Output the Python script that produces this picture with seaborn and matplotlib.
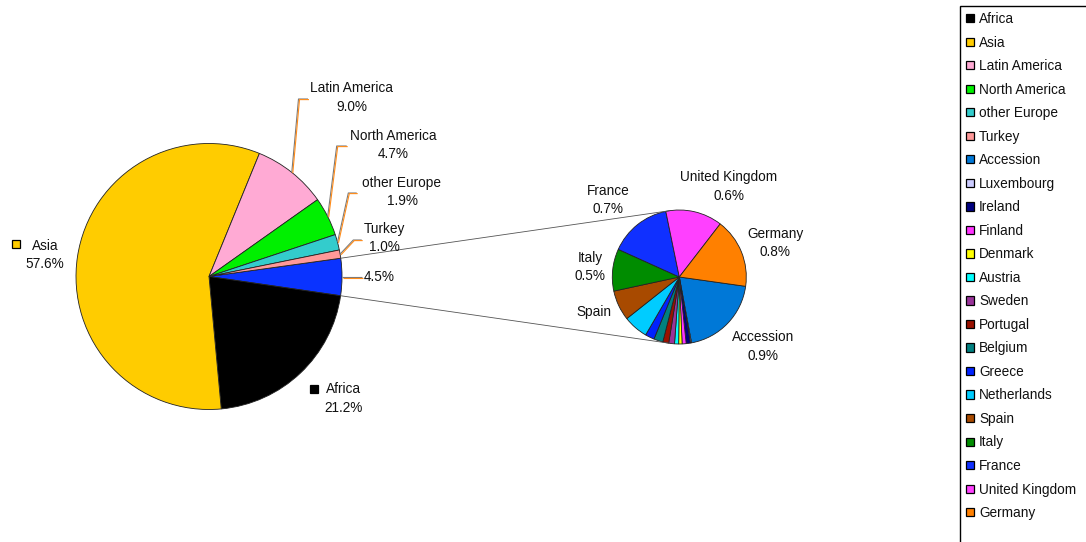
import numpy as np
import matplotlib
matplotlib.use("Agg")
import matplotlib.pyplot as plt
from matplotlib.patches import Rectangle
import seaborn as sns

# Share of the total by world region (percent); "EU" is broken out in the small pie
regions = ["EU", "Africa", "Asia", "Latin America", "North America", "other Europe", "Turkey"]
region_share = [4.5, 21.2, 57.6, 9.0, 4.7, 1.9, 1.0]
region_colors = ["#0A33FF", "#000000", "#FFCC00", "#FFAAD4", "#00F000", "#33CCCC", "#FF9999"]

# EU breakdown (percent of the overall total)
eu_members = ["Accession", "Luxembourg", "Ireland", "Finland", "Denmark", "Austria",
              "Sweden", "Portugal", "Belgium", "Greece", "Netherlands", "Spain",
              "Italy", "France", "United Kingdom", "Germany"]
eu_share = [0.90, 0.012, 0.046, 0.044, 0.037, 0.045, 0.063, 0.065, 0.10, 0.10,
            0.27, 0.33, 0.46, 0.68, 0.62, 0.76]
eu_colors = ["#0078D7", "#CCCCFF", "#000080", "#FF33FF", "#FFFF00", "#00FFFF",
             "#993399", "#991100", "#008080", "#0022FF", "#00CCFF", "#A84A00",
             "#008C00", "#1030FF", "#FF40FF", "#FF8000"]

sns.set_theme(style="white")
plt.rcParams["font.family"] = ["Liberation Sans", "DejaVu Sans"]

W, H = 1086, 542
fig = plt.figure(figsize=(W / 100, H / 100), dpi=100)
ax = fig.add_axes([0, 0, 1, 1])


def Y(y):
    # layout positions below are measured from the top edge
    return H - y


FS = 9.8
LS = 1.45
edge = dict(edgecolor="#222222", linewidth=0.6)

# main pie
big_c = np.array([209.0, Y(276.5)])
big_r = 133.0
big_wedges, _ = ax.pie(region_share, colors=region_colors, startangle=7.9,
                       counterclock=False, center=tuple(big_c), radius=big_r,
                       wedgeprops=edge, frame=True)

# secondary pie with the EU breakdown
small_c = np.array([679.3, Y(277.0)])
small_r = 67.0
small_wedges, _ = ax.pie(eu_share, colors=eu_colors, startangle=-8,
                         counterclock=False, center=tuple(small_c), radius=small_r,
                         wedgeprops=edge, frame=True)
ax.set_xlim(0, W)
ax.set_ylim(0, H)
ax.set_aspect("equal")
ax.axis("off")

# connector lines: EU wedge corners to tangent points on the small pie
eu_w = big_wedges[0]
for ang, sign in ((eu_w.theta2, -1), (eu_w.theta1, 1)):
    p = big_c + big_r * np.array([np.cos(np.radians(ang)), np.sin(np.radians(ang))])
    d = p - small_c
    dist = np.hypot(*d)
    phi = np.arctan2(d[1], d[0])
    alpha = np.arccos(small_r / dist)
    t = small_c + small_r * np.array([np.cos(phi + sign * alpha), np.sin(phi + sign * alpha)])
    ax.plot([p[0], t[0]], [p[1], t[1]], color="#555555", lw=0.6, zorder=3)


def leader(points):
    xs = np.array([q[0] for q in points])
    ys = np.array([q[1] for q in points])
    ax.plot(xs, ys, color="#7A7A7A", lw=0.8, zorder=3, solid_capstyle="butt")
    ax.plot(xs + 1.0, ys - 0.6, color="#FF8C1A", lw=0.8, zorder=3, solid_capstyle="butt")


def rim(wedge, c, r):
    mid = np.radians((wedge.theta1 + wedge.theta2) / 2)
    return c + r * np.array([np.cos(mid), np.sin(mid)])


share = dict(zip(regions, region_share))
wedge_of = dict(zip(regions, big_wedges))

# labels with leader lines on the upper right of the main pie
lead_layout = {
    "Latin America": ((298.5, 99), (308, 99), (352, 97.5)),
    "North America": ((336.7, 146), (346.7, 146), (393, 145)),
    "other Europe": ((348.3, 193), (356.7, 193), (402, 192)),
    "Turkey": ((353.3, 240), (361.7, 240), (384, 238)),
}
for name, (elbow, end, txt) in lead_layout.items():
    s = rim(wedge_of[name], big_c, big_r)
    leader([tuple(s), (elbow[0], Y(elbow[1])), (end[0], Y(end[1]))])
    ax.text(txt[0], Y(txt[1]), f"{name}\n{share[name]:.1f}%", ha="center", va="center",
            fontsize=FS, linespacing=LS, color="#111111")

# EU slice value
s = rim(wedge_of["EU"], big_c, big_r)
leader([tuple(s), (362, s[1])])
ax.text(364, s[1], f"{share['EU']:.1f}%", ha="left", va="center", fontsize=FS, color="#111111")

# labels carrying a colour key
key_layout = {
    "Asia": ((16, 244), (45, 255)),
    "Africa": ((314, 388.5), (343.5, 398.5)),
}
for name, (key, txt) in key_layout.items():
    ax.plot([key[0]], [Y(key[1])], marker="s", ms=5.6, mfc=wedge_of[name].get_facecolor(),
            mec="#000000", mew=0.9, zorder=4)
    ax.text(txt[0], Y(txt[1]), f"{name}\n{share[name]:.1f}%", ha="center", va="center",
            fontsize=FS, linespacing=LS, color="#111111")

# labels of the small pie
eu_val = dict(zip(eu_members, eu_share))
small_layout = {
    "France": (608, 200, True),
    "United Kingdom": (729, 186.5, True),
    "Germany": (775.5, 243, True),
    "Italy": (590, 267, True),
    "Spain": (594, 312, False),
    "Accession": (763.5, 346.5, True),
}
for name, (x, y, with_val) in small_layout.items():
    txt = f"{name}\n{eu_val[name]:.1f}%" if with_val else name
    ax.text(x, Y(y), txt, ha="center", va="center", fontsize=FS, linespacing=LS,
            color="#111111")

# legend
handles = list(big_wedges[1:]) + list(small_wedges)
labels = regions[1:] + eu_members
leg = ax.legend(handles, labels, loc="upper left", bbox_to_anchor=(966 / W, 1 - 12 / H),
                bbox_transform=fig.transFigure, frameon=False, fontsize=FS,
                handlelength=0.56, handleheight=0.56, handletextpad=0.4,
                labelspacing=0.70, borderpad=0, borderaxespad=0)
for t in leg.get_texts():
    t.set_color("#111111")
for h in leg.legend_handles:
    h.set_edgecolor("#000000")
    h.set_linewidth(0.9)

fig.patches.append(Rectangle((959.5 / W, -0.05), 0.2, 1 - 6 / H + 0.05,
                             transform=fig.transFigure, fill=False,
                             edgecolor="#000000", linewidth=1.0))

fig.savefig("out.png", dpi=100, facecolor="white")
